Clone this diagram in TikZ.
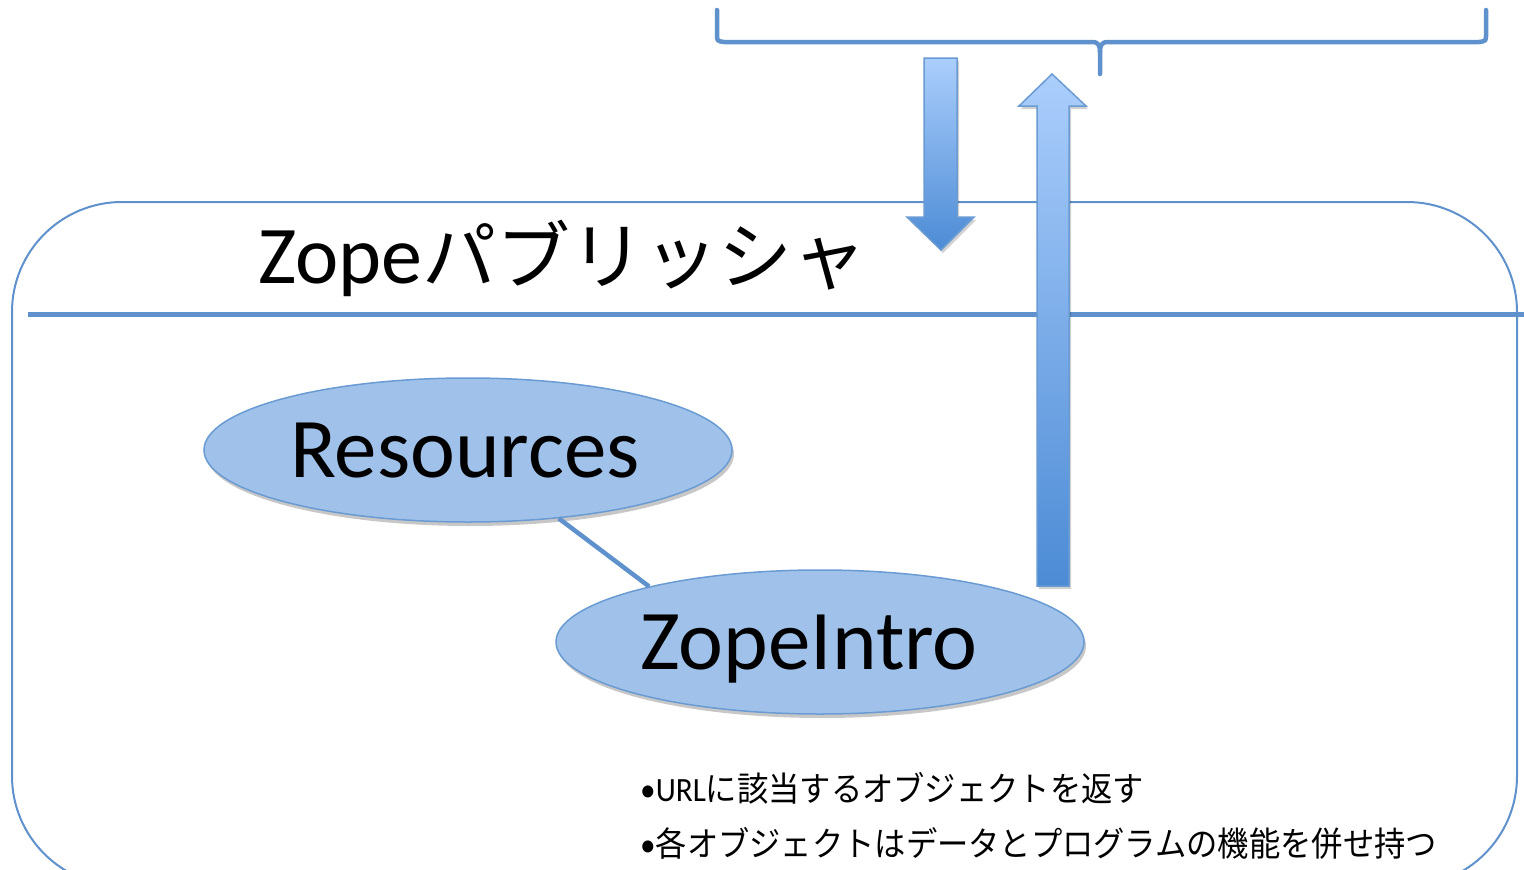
\documentclass[tikz,border=0pt]{standalone}
\usepackage{fontspec}
\setmainfont{Carlito}
\newfontfamily\cjk{Noto Sans CJK JP}
\usepackage{graphicx}
\usetikzlibrary{shapes.geometric,shadows}
\definecolor{lineblue}{HTML}{5F91CD}
\definecolor{ellfill}{HTML}{A0C2EA}
\definecolor{ellborder}{HTML}{6A9BD3}
\definecolor{arrtop}{HTML}{ABCEFC}
\definecolor{arrbot}{HTML}{4C8BD5}
\begin{document}
\begin{tikzpicture}[x=1pt,y=-1pt,
  ell/.style={ellipse, draw=ellborder, line width=1.5pt, fill=ellfill,
    minimum width=528pt, minimum height=144pt, inner sep=0pt, text depth=0pt,
    font=\fontsize{85}{90}\selectfont,
    drop shadow={opacity=0.22, shadow xshift=2pt, shadow yshift=-4pt, fill=black}},
  fatarrow/.style={draw=ellborder, line width=1.5pt, top color=arrtop, bottom color=arrbot,
    drop shadow={opacity=0.18, shadow xshift=2pt, shadow yshift=-3pt, fill=black}},
  conn/.style={draw=lineblue, line width=4.5pt},
  txt/.style={anchor=base west, inner sep=0pt}
]
\useasboundingbox (0,0) rectangle (1524,870);
\clip (0,0) rectangle (1524,870);
\fill[white] (0,0) rectangle (1524,870);

% brace
\draw[conn, line cap=round, line join=round]
  (717,10) -- (717,34) .. controls (717,41) .. (724,42) -- (1092,42)
  .. controls (1099,42) and (1100,46) .. (1100,52) -- (1100,74);
\draw[conn, line cap=round, line join=round]
  (1100,52) .. controls (1100,46) and (1101,42) .. (1108,42) -- (1479,42)
  .. controls (1486,41) .. (1486,34) -- (1486,10);

% publisher box
\draw[lineblue, line width=2pt, rounded corners=110pt] (12,202) rectangle (1517,886);
\draw[lineblue, line width=5pt] (28,314) -- (1524,314);

\node[txt] (title) at (258,283) {\fontsize{82}{90}\selectfont Zope{\cjk\fontsize{74}{80}\selectfont パブリッシャ}};

% arrows
\path[fatarrow] (924,58) -- (957,58) -- (957,217) -- (974,217) -- (941,250) -- (907,217) -- (924,217) -- cycle;
\path[fatarrow] (1037,586) -- (1069,586) -- (1069,106) -- (1086,106) -- (1052,74) -- (1019,106) -- (1037,106) -- cycle;

% ellipses
\node[ell] (res) at (468,450) {Resources\hspace*{6pt}};
\node[ell] (zi) at (820,642) {ZopeIntro\hspace*{22pt}};
\draw[conn] (res.-37) -- (zi.162);

% bullet text
\node[txt] (b1) at (640,801) {\scalebox{0.92}[1]{\fontsize{34}{40}\selectfont •URL{\cjk に該当するオブジェクトを返す}}};
\node[txt] (b2) at (640,856) {\scalebox{0.92}[1]{\fontsize{34}{40}\selectfont •{\cjk 各オブジェクトはデータとプログラムの機能を併せ持つ}}};
\end{tikzpicture}
\end{document}
